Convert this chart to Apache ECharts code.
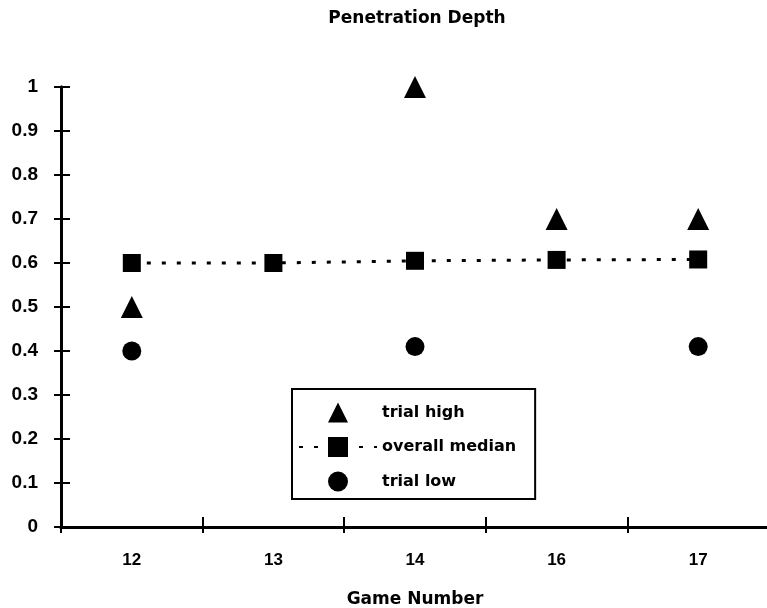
<!DOCTYPE html>
<html>
<head>
<meta charset="utf-8">
<script src="https://cdn.jsdelivr.net/npm/echarts@6/dist/echarts.min.js"></script>
<style>html,body{margin:0;padding:0;background:#fff;}#c{width:767px;height:608px;}</style>
</head>
<body>
<div id="c"></div>
<script>
var categories = ['12', '13', '14', '16', '17'];
var trialHigh = [0.5, null, 1.0, 0.7, 0.7];
var overallMedian = [0.6, 0.6, 0.605, 0.607, 0.608];
var trialLow = [0.4, null, 0.41, null, 0.41];
var yTicks = [0, 0.1, 0.2, 0.3, 0.4, 0.5, 0.6, 0.7, 0.8, 0.9, 1];

var FONT = 'DejaVu Sans';
var TFONT = 'Liberation Sans';
var chart = echarts.init(document.getElementById('c'));
var baseX = {
  type: 'category', data: categories, boundaryGap: true,
  axisLine: { show: true, lineStyle: { color: '#000', width: 3 } },
  splitLine: { show: false }
};
var baseY = {
  type: 'value', min: 0, max: 1, interval: 0.1,
  axisLine: { show: true, lineStyle: { color: '#000', width: 3 } },
  splitLine: { show: false }
};
chart.setOption({
  backgroundColor: '#fff',
  animation: false,
  title: {
    text: 'Penetration Depth', left: 412, top: 5, textAlign: 'center',
    textStyle: { fontFamily: FONT, fontWeight: 'bold', fontSize: 17, color: '#000' }
  },
  grid: { left: 61, top: 87, width: 708, height: 440, outerBoundsMode: 'none', containLabel: false },
  legend: {
    orient: 'vertical', left: 292, top: 389,
    padding: [13.5, 19, 7.5, 6],
    borderColor: '#000', borderWidth: 2,
    itemWidth: 78, itemHeight: 25, itemGap: 14.5,
    data: ['trial high', 'overall median', 'trial low'],
    textStyle: { fontFamily: FONT, fontWeight: 'bold', fontSize: 16, color: '#000', width: 140 }
  },
  xAxis: [
    Object.assign({}, baseX, {
      position: 'bottom',
      axisTick: { show: true, length: 6, lineStyle: { color: '#000', width: 2 } },
      axisLabel: { margin: 25, fontFamily: TFONT, fontWeight: 'bold', fontSize: 17, color: '#000' },
      name: 'Game Number', nameLocation: 'middle', nameGap: 64,
      nameTextStyle: { fontFamily: FONT, fontWeight: 'bold', fontSize: 17, color: '#000' }
    }),
    Object.assign({}, baseX, {
      position: 'bottom',
      axisTick: { show: true, inside: true, length: 10, lineStyle: { color: '#000', width: 2 } },
      axisLabel: { show: false }
    })
  ],
  yAxis: [
    Object.assign({}, baseY, {
      position: 'left',
      axisTick: { show: true, length: 7, lineStyle: { color: '#000', width: 2 } },
      axisLabel: {
        margin: 23, fontFamily: TFONT, fontWeight: 'bold', fontSize: 19, color: '#000',
        formatter: function (v) { var r = Math.round(v * 10) / 10; return yTicks.indexOf(r) >= 0 ? String(r) : ''; }
      }
    }),
    Object.assign({}, baseY, {
      position: 'left',
      axisTick: { show: true, inside: true, length: 9, lineStyle: { color: '#000', width: 2 } },
      axisLabel: { show: false }
    })
  ],
  series: [
    {
      name: 'trial high', type: 'line', data: trialHigh,
      symbol: 'triangle', symbolSize: 22, showSymbol: true,
      itemStyle: { color: '#000', opacity: 1 },
      lineStyle: { color: '#000', opacity: 0 }
    },
    {
      name: 'overall median', type: 'line', data: overallMedian,
      symbol: 'rect', symbolSize: 18, showSymbol: true,
      itemStyle: { color: '#000', opacity: 1 },
      lineStyle: { color: '#000', width: 3, type: [4, 11] }
    },
    {
      name: 'trial low', type: 'line', data: trialLow,
      symbol: 'circle', symbolSize: 19, showSymbol: true,
      itemStyle: { color: '#000', opacity: 1 },
      lineStyle: { color: '#000', opacity: 0 }
    }
  ]
});
</script>
</body>
</html>
